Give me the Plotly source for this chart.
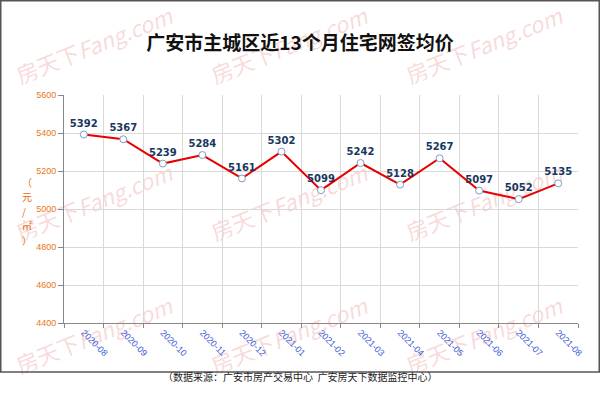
import base64
import plotly.graph_objects as go

months = ["2020-08", "2020-09", "2020-10", "2020-11", "2020-12", "2021-01", "2021-02",
          "2021-03", "2021-04", "2021-05", "2021-06", "2021-07", "2021-08"]
prices = [5392, 5367, 5239, 5284, 5161, 5302, 5099, 5242, 5128, 5267, 5097, 5052, 5135]
y_ticks = [4400, 4600, 4800, 5000, 5200, 5400, 5600]
y_title_chars = ["（", "元", "/", "㎡", "）"]

W, H = 600, 404
L, R, T, B = 64, 22, 95, 81
PW, PH = W - L - R, H - T - B


def px(x):
    return (x - L) / PW


def py(y):
    return (H - B - y) / PH


# decorative watermark drawn as a background image
wm_parts = []
for cx in (95, 290, 485):
    for cy in (48, 205, 338):
        wm_parts.append(
            f'<text x="{cx}" y="{cy}" transform="rotate(-22 {cx} {cy})" text-anchor="middle" '
            f'dominant-baseline="middle" font-family="Noto Sans CJK SC" font-size="22" '
            f'fill="rgb(235,150,150)" fill-opacity="0.35">房天下<tspan font-style="italic">Fang.com</tspan></text>'
        )
svg = (f'<svg xmlns="http://www.w3.org/2000/svg" width="{W}" height="{H}" viewBox="0 0 {W} {H}">'
       + "".join(wm_parts) + "</svg>")
svg_uri = "data:image/svg+xml;base64," + base64.b64encode(svg.encode("utf-8")).decode("ascii")

fig = go.Figure()
fig.add_trace(go.Scatter(
    x=months, y=prices, mode="lines+markers+text",
    line=dict(color="#E60000", width=2),
    marker=dict(symbol="circle", size=7, color="white", line=dict(color="#7F9DC6", width=1)),
    text=[str(v) for v in prices], textposition="top center",
    textfont=dict(family="DejaVu Sans", size=10, color="#17375E", weight="bold"),
    cliponaxis=False, hoverinfo="x+y", showlegend=False,
))

annotations = []
for i, ch in enumerate(y_title_chars):
    annotations.append(dict(
        x=px(20), y=py(182 + i * 14.5), xref="paper", yref="paper",
        text=ch, showarrow=False,
        font=dict(family="Noto Sans CJK SC", size=10, color="#E46C0A")))
annotations.append(dict(
    x=px(300), y=py(386), xref="paper", yref="paper",
    text="（数据来源：广安市房产交易中心  广安房天下数据监控中心）", showarrow=False,
    font=dict(family="Noto Sans CJK SC", size=10, color="#222222")))

shapes = [
    dict(type="rect", xref="paper", yref="paper",
         x0=px(0.75), x1=px(599.25), y0=py(372), y1=py(0.75),
         line=dict(color="#555555", width=1.5), layer="above"),
]

images = [
    dict(source=svg_uri, xref="paper", yref="paper", x=px(0), y=py(0),
         sizex=W / PW, sizey=H / PH, xanchor="left", yanchor="top",
         sizing="stretch", layer="below"),
]

fig.update_layout(
    width=W, height=H,
    margin=dict(l=L, r=R, t=T, b=B),
    paper_bgcolor="white", plot_bgcolor="rgba(0,0,0,0)",
    title=dict(text="<b>广安市主城区近13个月住宅网签均价</b>", x=0.5, xanchor="center",
               y=1 - 43 / H, yanchor="middle", yref="container",
               font=dict(family="Noto Sans CJK SC", size=19, color="#111111")),
    xaxis=dict(
        type="category", tickson="boundaries", tickangle=45,
        showgrid=True, gridcolor="#D9D9D9", gridwidth=1,
        showline=True, linecolor="#888888", linewidth=1,
        ticks="outside", ticklen=4, tickcolor="#888888",
        tickfont=dict(family="Liberation Sans", size=9, color="#3A5BD9"),
        range=[-0.5, 12.5], fixedrange=True, automargin=False,
    ),
    yaxis=dict(
        range=[4400, 5600], tickvals=y_ticks, ticktext=[str(v) for v in y_ticks],
        showgrid=True, gridcolor="#D9D9D9", gridwidth=1,
        showline=True, linecolor="#888888", linewidth=1,
        ticks="outside", ticklen=5, tickcolor="#888888",
        tickfont=dict(family="Liberation Sans", size=9, color="#E87722"),
        zeroline=False, fixedrange=True, automargin=False,
    ),
    annotations=annotations, shapes=shapes, images=images,
)

fig.write_html("out.html", config={"displayModeBar": False},
               post_script="document.body.style.margin='0';document.body.style.padding='0';")
